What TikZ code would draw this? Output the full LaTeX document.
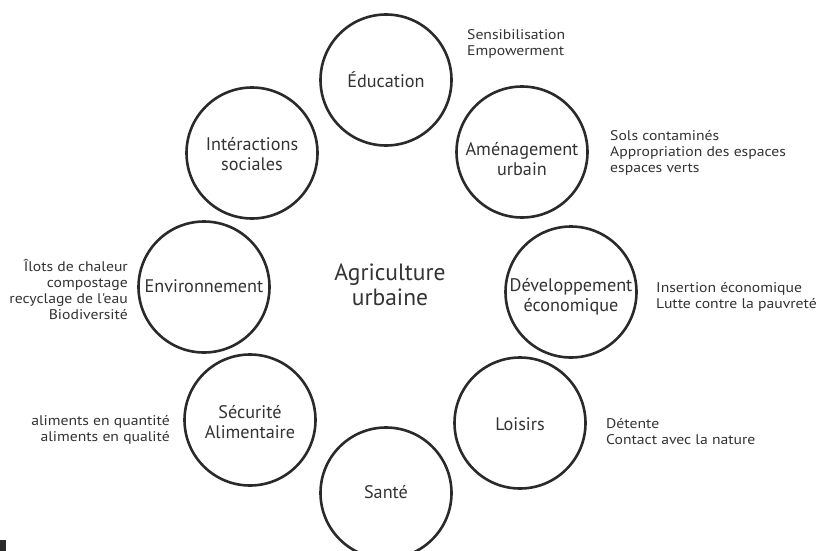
\documentclass[tikz,border=0pt]{standalone}
\usepackage{fontspec}
\setmainfont{PT Sans}
\newfontfamily\notefont[FakeStretch=1.12]{PT Sans}
\definecolor{ink}{HTML}{2A2A2A}
\definecolor{txt}{HTML}{333333}
\begin{document}
\begin{tikzpicture}[x=1pt,y=-1pt,
  theme/.style={circle,draw=ink,line width=2.6pt,minimum size=131pt,inner sep=0pt},
  ctext/.style={text=txt,font=\fontsize{18.2}{19.5}\selectfont,align=center,inner sep=0pt},
  note/.style={text=txt,font=\notefont\fontsize{14}{16}\selectfont,inner sep=0pt},
  noteL/.style={note,align=left,anchor=west},
  noteR/.style={note,align=right,anchor=east}]
\useasboundingbox (0,0) rectangle (824,551);
\fill[white] (0,0) rectangle (824,551);
% circles
\node[theme] (edu) at (386,80) {};
\node[theme] (amen) at (522,152) {};
\node[theme] (dev) at (571,292) {};
\node[theme] (lois) at (520,423) {};
\node[theme] (sante) at (386,493) {};
\node[theme] (secu) at (250,420) {};
\node[theme] (env) at (204,287) {};
\node[theme] (inter) at (252,153) {};
% circle texts
\node[ctext] (tedu) at (386,80) {Éducation};
\node[ctext] (tamen) at (522,159) {Aménagement\\urbain};
\node[ctext] (tdev) at (571,297) {Développement\\économique};
\node[ctext] (tlois) at (520,424) {Loisirs};
\node[ctext] (tsante) at (386,492) {Santé};
\node[ctext] (tsecu) at (250,422) {Sécurité\\Alimentaire};
\node[ctext] (tenv) at (204,286) {Environnement};
\node[ctext] (tinter) at (252,154) {Intéractions\\sociales};
% centre
\node[text=txt,font=\fontsize{23.5}{24.5}\selectfont,align=center,inner sep=0pt] (agri) at (390,285) {Agriculture\\urbaine};
% notes
\node[noteL] (nedu) at (467,44) {Sensibilisation\\Empowerment};
\node[noteL] (namen) at (610,153) {Sols contaminés\\Appropriation des espaces\\espaces verts};
\node[noteL] (ndev) at (656,297) {Insertion économique\\Lutte contre la pauvreté};
\node[noteL] (nlois) at (606,432) {Détente\\Contact avec la nature};
\node[noteR] (nenv) at (128,289) {Îlots de chaleur\\compostage\\recyclage de l'eau\\Biodiversité};
\node[noteR] (nsecu) at (170,430) {aliments en quantité\\aliments en qualité};
% corner mark
\fill[ink] (0,540) rectangle (6,551);
\end{tikzpicture}
\end{document}
